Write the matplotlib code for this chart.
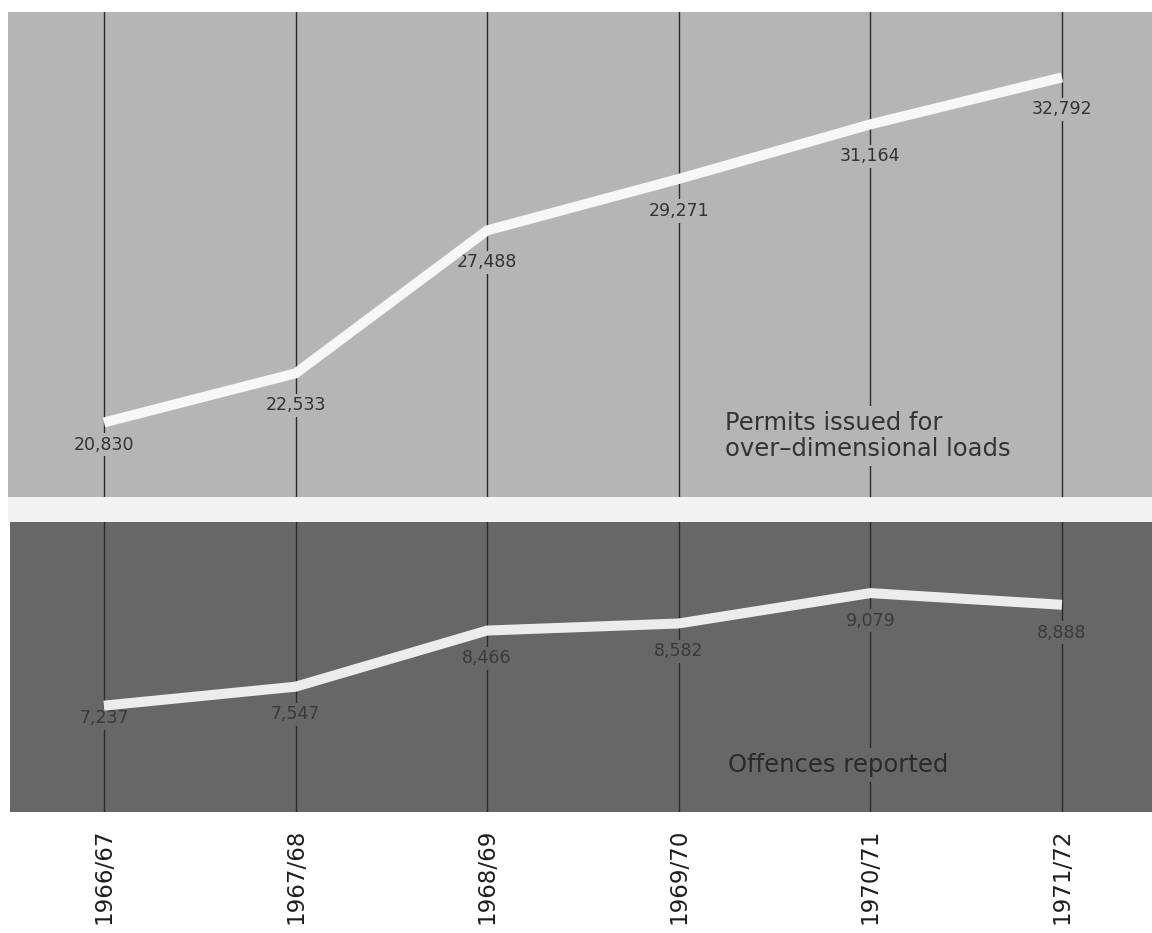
import matplotlib
matplotlib.use("Agg")
import matplotlib.pyplot as plt

years = ["1966/67", "1967/68", "1968/69", "1969/70", "1970/71", "1971/72"]
permits = [20830, 22533, 27488, 29271, 31164, 32792]
offences = [7237, 7547, 8466, 8582, 9079, 8888]
permits_title = "Permits issued for\nover\u2013dimensional loads"
offences_title = "Offences reported"

plt.rcParams['font.family'] = ['DejaVu Sans']

W, H = 1152, 933
fig = plt.figure(figsize=(W / 100, H / 100), dpi=100)
fig.patch.set_facecolor('white')

# gap strip
gap = fig.add_axes([8 / W, 1 - 522 / H, 1 - 8 / W, 25 / H])
gap.set_axis_off()
gap.add_patch(plt.Rectangle((0, 0), 1, 1, transform=gap.transAxes, color='#f3f3f3'))

top_col = '#b5b5b5'
bot_col = '#676767'

ax1 = fig.add_axes([8 / W, 1 - 497 / H, 1 - 8 / W, 485 / H])
ax2 = fig.add_axes([10 / W, 1 - 812 / H, 1 - 10 / W, 290 / H])

x = list(range(len(years)))

def style(ax, col):
    ax.set_facecolor(col)
    for s in ax.spines.values():
        s.set_visible(False)
    ax.set_yticks([])
    ax.set_xticks(x)
    ax.tick_params(axis='x', length=0)
    ax.xaxis.grid(True, color='#2a2a2a', lw=1.0, zorder=1)
    ax.set_axisbelow(True)

style(ax1, top_col)
style(ax2, bot_col)

ax1.set_xlim(-0.501, 5.47)
ax2.set_xlim(-0.49, 5.47)
ax1.set_ylim(18246, 35059)
ax2.set_ylim(5496, 10243)

ax1.set_xticklabels([])
ax2.set_xticklabels(years, rotation=90, fontsize=16.5, color='#1e1e1e')
ax2.tick_params(axis='x', pad=12)

ax1.plot(x, permits, color='#f7f7f7', lw=7.2, solid_joinstyle='miter',
         solid_capstyle='butt', zorder=4)
ax2.plot(x, offences, color='#ececec', lw=7.2, solid_joinstyle='miter',
         solid_capstyle='butt', zorder=4)

for i, v in enumerate(permits):
    off = -16 if i == 0 else -23
    ax1.annotate(f"{v:,}", (i, v), xytext=(0, off), textcoords='offset points',
                 ha='center', va='center', fontsize=12.5, color='#333333', zorder=3,
                 bbox=dict(boxstyle='square,pad=0.15', fc=top_col, ec='none'))
for i, v in enumerate(offences):
    off = -9 if i == 0 else -20
    ax2.annotate(f"{v:,}", (i, v), xytext=(0, off), textcoords='offset points',
                 ha='center', va='center', fontsize=12.5, color='#3a3a3a', zorder=3,
                 bbox=dict(boxstyle='square,pad=0.15', fc=bot_col, ec='none'))

fig.text(725 / W, 1 - 436 / H, permits_title, fontsize=17.5, color='#333333',
         ha='left', va='center', linespacing=1.15, zorder=3,
         bbox=dict(boxstyle='square,pad=0.2', fc=top_col, ec='none'))
fig.text(728 / W, 1 - 765 / H, offences_title, fontsize=17.5, color='#2a2a2a',
         ha='left', va='center', zorder=3,
         bbox=dict(boxstyle='square,pad=0.2', fc=bot_col, ec='none'))

fig.savefig('out.png', dpi=100, facecolor='white')
